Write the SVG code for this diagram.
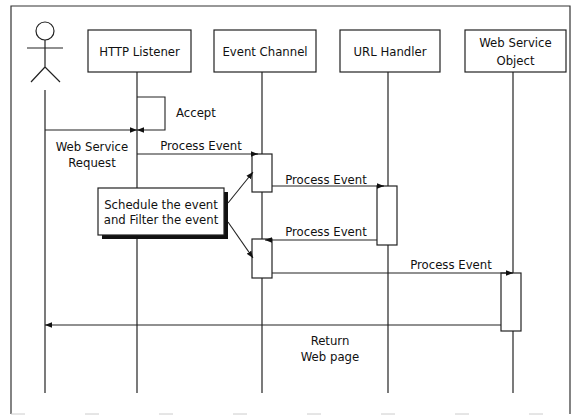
<svg xmlns="http://www.w3.org/2000/svg" width="573" height="416" viewBox="0 0 573 416">
<style>
text{font-family:"DejaVu Sans Condensed","DejaVu Sans",sans-serif;font-size:13px;fill:#111}
.c{text-anchor:middle}
.box{fill:#fff;stroke:#222;stroke-width:1.2}
.ll{stroke:#222;stroke-width:1.2;fill:none}
.msg{stroke:#222;stroke-width:1.1;fill:none}
</style>
<defs>
<marker id="ah" viewBox="0 0 10 10" refX="10" refY="5" markerWidth="7" markerHeight="7" orient="auto" markerUnits="userSpaceOnUse">
<path d="M0,1 L10,5 L0,9 z" fill="#111"/>
</marker>
</defs>
<rect width="573" height="416" fill="#fff"/>
<g id="frame">
<path d="M11,414 V6 H570 V414" fill="none" stroke="#333" stroke-width="1.2"/>
<path d="M11,414 H570" fill="none" stroke="#ccc" stroke-width="1" stroke-dasharray="14 60"/>
</g>
<g id="actor" class="ll">
<circle cx="45" cy="31" r="9"/>
<path d="M45,40 V67 M27,48 H63 M45,67 L31,82 M45,67 L60,82"/>
<path d="M45,90 V393"/>
</g>
<g id="http-listener">
<rect class="box" x="88" y="30" width="103" height="42"/>
<text class="c" x="139.5" y="56">HTTP Listener</text>
<path class="ll" d="M137,72 V393"/>
</g>
<g id="event-channel">
<rect class="box" x="214" y="30" width="102" height="42"/>
<text class="c" x="265" y="56">Event Channel</text>
<path class="ll" d="M262,72 V393"/>
<rect class="box" x="252" y="154" width="20" height="38"/>
<rect class="box" x="252" y="239" width="20" height="39"/>
</g>
<g id="url-handler">
<rect class="box" x="340" y="30" width="100" height="42"/>
<text class="c" x="390" y="56">URL Handler</text>
<path class="ll" d="M388,72 V393"/>
<rect class="box" x="377" y="186" width="20" height="59"/>
</g>
<g id="web-service-object">
<rect class="box" x="465" y="30" width="101" height="42"/>
<text class="c" x="515.5" y="47">Web Service</text>
<text class="c" x="515.5" y="65">Object</text>
<path class="ll" d="M513,72 V393"/>
<rect class="box" x="501" y="273" width="20" height="58"/>
</g>
<g id="note">
<rect x="102" y="192" width="126" height="47" fill="#111"/>
<rect class="box" x="98" y="188" width="126" height="47"/>
<text class="c" x="161" y="209">Schedule the event</text>
<text class="c" x="161" y="224">and Filter the event</text>
</g>
<g id="connectors">
<path class="msg" d="M137,97 H165 V130 H137" marker-end="url(#ah)"/>
<path class="msg" d="M45,130 H137" marker-end="url(#ah)"/>
<path class="msg" d="M137,154 H258" marker-end="url(#ah)"/>
<path class="msg" d="M272,186 H384" marker-end="url(#ah)"/>
<path class="msg" d="M377,240 H265" marker-end="url(#ah)"/>
<path class="msg" d="M272,273 H513" marker-end="url(#ah)"/>
<path class="msg" d="M501,325 H45" marker-end="url(#ah)"/>
<path class="msg" d="M228,203 L253,172" marker-end="url(#ah)"/>
<path class="msg" d="M228,222 L253,258" marker-end="url(#ah)"/>
</g>
<g id="labels">
<text x="176" y="117">Accept</text>
<text class="c" x="92" y="151">Web Service</text>
<text class="c" x="92" y="167">Request</text>
<text class="c" x="201" y="150">Process Event</text>
<text class="c" x="326" y="184">Process Event</text>
<text class="c" x="326" y="236">Process Event</text>
<text class="c" x="451" y="269">Process Event</text>
<text class="c" x="330" y="345">Return</text>
<text class="c" x="330" y="361">Web page</text>
</g>
</svg>
